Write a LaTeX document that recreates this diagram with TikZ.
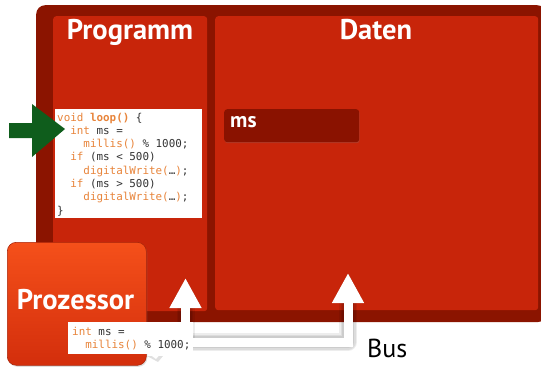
\documentclass[tikz,border=0pt]{standalone}
\usepackage{fontspec}
\setmainfont{PT Sans}
\newfontfamily\codefont{DejaVu Sans Mono}
\usetikzlibrary{arrows.meta,shadows,calc}
\definecolor{outerred}{HTML}{8B1400}
\definecolor{panelred}{HTML}{C8250A}
\definecolor{msred}{HTML}{8A1200}
\definecolor{codeor}{HTML}{E8843A}
\definecolor{codetxt}{HTML}{333333}
\definecolor{arrowgreen}{HTML}{0F5D1C}
\definecolor{proztop}{HTML}{F5501A}
\definecolor{prozbot}{HTML}{D32E0C}
\newcommand\kw[1]{\textcolor{codeor}{#1}}
\tikzset{
  panel/.style={fill=panelred, rounded corners=3, anchor=north west, inner sep=0},
  titletext/.style={text=white, font=\fontsize{28.5}{32}\selectfont\bfseries, anchor=base, inner sep=0},
  codeline/.style={anchor=base west, inner sep=0, text=codetxt, font=\codefont\fontsize{10.9}{13}\selectfont},
  whitebox/.style={fill=white, anchor=north west, inner sep=0},
  busline/.style={draw=white, line width=9, line join=miter,
    -{Triangle[width=30pt,length=30pt]}},
  busshadow/.style={draw=black, line width=#1, opacity=0.07, line join=round,
    -{Triangle[width=30pt,length=30pt]}},
}
\begin{document}
\begin{tikzpicture}[x=1pt,y=-1pt]
\useasboundingbox (0,0) rectangle (541,367);
% outer frame
\node[fill=outerred, rounded corners=9, anchor=north west, inner sep=0,
  minimum width=510, minimum height=317] (outer) at (36,5) {};
% panels
\node[panel, minimum width=154, minimum height=295] (prog) at (53,16) {};
\node[panel, minimum width=323, minimum height=294] (daten) at (215,16) {};
\node[titletext] (progtitle) at (130,39) {Programm};
\node[titletext] (datentitle) at (376,39) {Daten};
% data cell
\node[fill=msred, rounded corners=3, anchor=north west, inner sep=0,
  minimum width=135, minimum height=33, drop shadow={opacity=0.25,shadow xshift=0.5pt,shadow yshift=-1pt}] (mscell) at (224,109) {};
\node[anchor=base west, inner sep=0, text=white, font=\fontsize{21.5}{24}\selectfont\bfseries] (mstext) at (230,127) {ms};
% code box
\node[whitebox, minimum width=147, minimum height=109] (codebox) at (55,109) {};
\node[codeline] (c1) at (57,121) {\kw{void} \kw{\bfseries loop()} \{};
\node[codeline] (c2) at (57,134.3) {\hphantom{xx}\kw{int} ms =};
\node[codeline] (c3) at (57,147.6) {\hphantom{xxxx}\kw{millis()} \% 1000;};
\node[codeline] (c4) at (57,160.9) {\hphantom{xx}\kw{if} (ms < 500)};
\node[codeline] (c5) at (57,174.2) {\hphantom{xxxx}\kw{digitalWrite(}…\kw{)};};
\node[codeline] (c6) at (57,187.5) {\hphantom{xx}\kw{if} (ms > 500)};
\node[codeline] (c7) at (57,200.8) {\hphantom{xxxx}\kw{digitalWrite(}…\kw{)};};
\node[codeline] (c8) at (57,214.1) {\}};
% green pointer arrow
\fill[arrowgreen] (9,123) -- (32,123) -- (32,104) -- (65,129) -- (32,157) -- (32,138) -- (9,138) -- cycle;
% bus
\coordinate (junction) at (185.5,342);
\coordinate (progin) at (185.5,278);
\coordinate (datin) at (348,273);
\coordinate (busleft) at (150,342);
\begin{scope}[shift={(-3,-4)}]
  \foreach \w in {18,15,12}{
    \draw[busshadow=\w] (junction) -- (progin);
    \draw[busshadow=\w] (busleft) -| (datin);
  }
\end{scope}
\draw[busline] (junction) -- (progin);
\draw[busline] (busleft) -| (datin);
\node[anchor=base west, inner sep=0, text=black, font=\fontsize{26}{30}\selectfont] (bus) at (367,357) {Bus};
% processor
\node[anchor=north west, inner sep=0, rounded corners=9, minimum width=139, minimum height=123,
  top color=proztop, bottom color=prozbot, draw=prozbot!80!black, line width=0.6,
  drop shadow={opacity=0.25,shadow xshift=1pt,shadow yshift=-1.5pt}] (proz) at (7,242) {};
\node[titletext] (proztext) at (75.5,309) {Prozessor};
% bubble
\fill[black, opacity=0.12] (147,356) -- (163,356) -- (158,362) -- cycle;
\node[whitebox, minimum width=125, minimum height=32] (bubble) at (68,322) {};
\fill[white] (148,353) -- (161,353) -- (156,359) -- cycle;
\node[codeline] (b1) at (72,335) {\kw{int} ms =};
\node[codeline] (b2) at (72,348) {\hphantom{xx}\kw{millis()} \% 1000;};
\end{tikzpicture}
\end{document}
